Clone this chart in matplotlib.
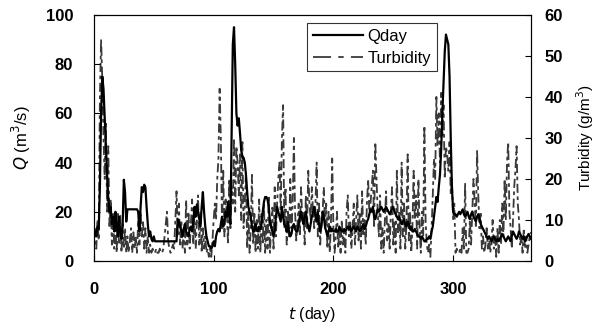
import numpy as np
import matplotlib
matplotlib.use("Agg")
import matplotlib.pyplot as plt
from matplotlib.lines import Line2D

plt.rcParams['font.family'] = ['Liberation Sans', 'DejaVu Sans']

# daily discharge Q (m3/s), days 1..365
q_day = [
    12, 10, 14, 13, 30, 60, 75, 70, 58, 45,
    35, 25, 20, 22, 15, 18, 12, 20, 14, 10,
    18, 12, 9, 15, 33, 28, 16, 21, 21, 21,
    21, 21, 21, 21, 21, 21, 20, 12, 22, 30,
    28, 31, 30, 22, 15, 10, 12, 9, 8, 10,
    8, 8, 8, 8, 8, 8, 8, 8, 8, 8,
    8, 8, 8, 8, 8, 8, 8, 8, 8, 17,
    16, 14, 12, 10, 13, 15, 12, 11, 10, 13,
    14, 12, 16, 22, 18, 23, 20, 17, 14, 22,
    28, 20, 14, 10, 8, 6, 6, 5, 6, 8,
    6, 10, 12, 13, 12, 15, 18, 14, 16, 20,
    18, 24, 18, 15, 50, 88, 95, 80, 60, 55,
    58, 52, 45, 42, 42, 40, 35, 28, 22, 20,
    18, 14, 12, 12, 15, 13, 12, 14, 13, 15,
    20, 24, 26, 26, 25, 22, 16, 14, 12, 10,
    12, 18, 22, 20, 18, 16, 22, 18, 15, 14,
    12, 16, 12, 10, 11, 14, 15, 13, 12, 12,
    15, 18, 20, 17, 15, 18, 20, 16, 14, 12,
    15, 18, 20, 22, 18, 16, 20, 15, 12, 14,
    20, 18, 14, 12, 10, 12, 14, 12, 13, 12,
    12, 13, 12, 12, 14, 13, 12, 12, 13, 12,
    13, 14, 13, 14, 12, 13, 14, 13, 12, 14,
    13, 12, 13, 14, 15, 13, 14, 16, 17, 19,
    21, 20, 22, 18, 17, 19, 21, 20, 21, 22,
    21, 20, 21, 22, 21, 20, 19, 20, 21, 22,
    20, 19, 18, 17, 18, 16, 15, 16, 17, 15,
    14, 16, 15, 13, 14, 12, 12, 13, 12, 11,
    10, 10, 9, 10, 9, 8, 8, 9, 9, 10,
    9, 12, 14, 18, 22, 26, 24, 30, 35, 45,
    60, 72, 85, 92, 90, 88, 75, 50, 30, 20,
    19, 19, 18, 19, 20, 19, 20, 21, 19, 18,
    19, 20, 18, 17, 19, 20, 18, 17, 16, 18,
    19, 17, 15, 14, 13, 12, 11, 10, 9, 10,
    9, 8, 9, 10, 9, 8, 9, 8, 9, 10,
    11, 10, 9, 8, 9, 10, 9, 8, 10, 12,
    11, 10, 9, 10, 12, 11, 10, 9, 10, 8,
    9, 10, 11, 10, 9,
]

# daily turbidity (g/m3), days 1..365
turb = [
    8, 3, 10, 5, 40, 54, 44, 30, 20, 34,
    12, 28, 8, 15, 4, 12, 3, 10, 2, 12,
    4, 11, 2, 9, 3, 8, 2, 6, 2, 5,
    8, 2, 7, 3, 6, 2, 10, 4, 12, 6,
    10, 3, 8, 2, 6, 2, 4, 2, 3, 2,
    2, 3, 2, 2, 3, 2, 2, 3, 6, 9,
    12, 5, 3, 2, 3, 4, 3, 10, 17, 6,
    14, 4, 10, 3, 8, 2, 15, 4, 12, 3,
    9, 15, 4, 12, 3, 10, 16, 4, 12, 2,
    8, 3, 6, 2, 3, 1, 3, 1, 5, 10,
    14, 10, 20, 25, 42, 30, 8, 22, 6, 15,
    12, 4, 20, 8, 18, 14, 30, 12, 28, 24,
    16, 26, 10, 29, 8, 14, 22, 3, 12, 2,
    8, 21, 4, 12, 2, 10, 3, 15, 2, 12,
    4, 14, 2, 10, 3, 16, 2, 8, 13, 3,
    18, 6, 14, 20, 24, 12, 30, 38, 8, 18,
    4, 12, 6, 20, 8, 14, 30, 12, 5, 9,
    14, 6, 18, 10, 12, 4, 16, 8, 22, 14,
    10, 18, 12, 8, 14, 24, 6, 14, 4, 10,
    12, 18, 8, 14, 3, 12, 2, 10, 25, 8,
    2, 6, 12, 3, 8, 2, 10, 4, 7, 2,
    12, 16, 6, 10, 3, 8, 14, 4, 10, 16,
    5, 12, 3, 17, 6, 10, 4, 14, 20, 12,
    14, 18, 22, 8, 29, 20, 12, 6, 16, 3,
    8, 2, 10, 17, 5, 9, 3, 12, 18, 4,
    10, 2, 22, 7, 12, 3, 24, 6, 14, 3,
    9, 26, 5, 12, 2, 8, 22, 10, 16, 3,
    20, 8, 2, 12, 6, 33, 10, 4, 2, 4,
    1, 8, 16, 25, 20, 40, 28, 36, 24, 41,
    30, 38, 20, 28, 26, 22, 29, 16, 20, 10,
    14, 2, 3, 2, 2, 3, 2, 8, 3, 19,
    2, 2, 3, 10, 4, 12, 20, 14, 8, 27,
    16, 8, 12, 3, 6, 2, 4, 8, 3, 6,
    2, 4, 10, 3, 6, 1, 8, 2, 10, 4,
    14, 6, 20, 10, 24, 29, 12, 8, 3, 10,
    18, 22, 28, 14, 10, 4, 6, 2, 8, 3,
    6, 2, 4, 6, 7,
]

days = np.arange(1, len(q_day) + 1)
days_t = np.arange(1, len(turb) + 1)

turb_ls = (0, (5, 2, 2, 2))
turb_col = '#3a3a3a'

fig = plt.figure(figsize=(6.02, 3.31), dpi=100)
ax = fig.add_axes([0.156, 0.2115, 0.726, 0.7435])
ax2 = ax.twinx()

ax.plot(days, q_day, color='black', lw=1.6)
ax2.plot(days_t, turb, color=turb_col, lw=1.3, ls=turb_ls)

ax.set_xlim(0, 365)
ax.set_ylim(0, 100)
ax2.set_ylim(0, 60)
ax.set_xticks([0, 100, 200, 300])
ax.set_yticks(np.arange(0, 101, 20))
ax2.set_yticks(np.arange(0, 61, 10))

ax.tick_params(axis='x', direction='in', length=4, pad=15, labelsize=12)
ax.tick_params(axis='y', direction='in', length=4, pad=15, labelsize=12)
ax2.tick_params(axis='y', direction='in', length=4, pad=10, labelsize=12)
for lab in ax.get_xticklabels() + ax.get_yticklabels() + ax2.get_yticklabels():
    lab.set_fontweight('bold')

ax.set_xlabel(r'$t$ (day)', fontsize=11.5, labelpad=6)
ax.set_ylabel(r'$Q$ (m$^3$/s)', fontsize=12, labelpad=9)
ax2.set_ylabel(r'Turbidity (g/m$^3$)', fontsize=11, labelpad=8)

handles = [Line2D([], [], color='black', lw=1.6),
           Line2D([], [], color=turb_col, lw=1.3, ls=(0, (10, 4, 3, 4)))]
leg = ax.legend(handles, ['Qday', 'Turbidity'], loc='upper left',
                bbox_to_anchor=(0.487, 0.967), borderaxespad=0,
                fontsize=12, frameon=True, fancybox=False,
                edgecolor='black', handlelength=3,
                borderpad=0.35, labelspacing=0.4, handletextpad=0.3)
leg.get_frame().set_linewidth(0.8)
leg.set_zorder(10)
ax.set_zorder(ax2.get_zorder() + 1)
ax.patch.set_visible(False)

fig.savefig('out.png', dpi=100)
